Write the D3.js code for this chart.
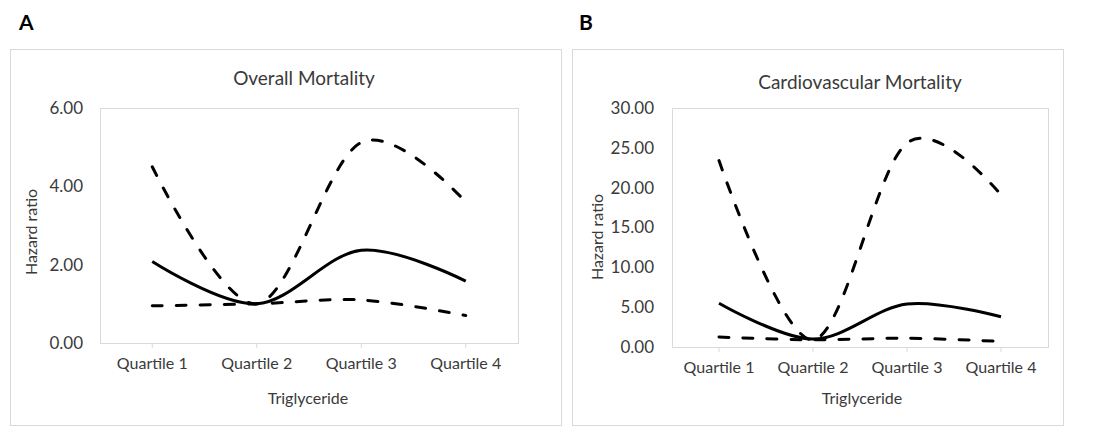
<!DOCTYPE html>
<html>
<head>
<meta charset="utf-8">
<script src="https://cdn.jsdelivr.net/npm/d3@7"></script>
<style>
  body { margin: 0; background: #fff; }
  svg text { font-family: Lato, "Open Sans", sans-serif; fill: #3a3a3a; }
</style>
</head>
<body>
<svg width="1095" height="426"></svg>
<script>
var categories = ["Quartile 1", "Quartile 2", "Quartile 3", "Quartile 4"];

// panel A - overall mortality
var overallHR    = [2.08, 1.00, 2.37, 1.58];
var overallUpper = [4.50, 1.00, 5.12, 3.60];
var overallLower = [0.95, 1.00, 1.10, 0.70];
var overallTicks = [0, 2, 4, 6];

// panel B - cardiovascular mortality
var cvHR    = [5.50, 1.00, 5.40, 3.80];
var cvUpper = [23.4, 0.90, 25.6, 19.1];
var cvLower = [1.25, 0.90, 1.10, 0.70];
var cvTicks = [0, 5, 10, 15, 20, 25, 30];

var svg = d3.select("svg");

function drawPanel(o) {
  var g = svg.append("g");

  // outer frame
  g.append("rect")
      .attr("x", o.box[0] + 0.5).attr("y", o.box[1] + 0.5)
      .attr("width", o.box[2]).attr("height", o.box[3])
      .attr("fill", "#fff").attr("stroke", "#d9d9d9");

  g.append("text")
      .attr("x", o.letterX).attr("y", 30)
      .style("font-size", "21px").style("font-weight", "bold").style("fill", "#000")
      .text(o.letter);

  var x = d3.scaleBand().domain(categories).range([o.left, o.right]);
  var y = d3.scaleLinear().domain([0, o.max]).range([o.bottom, o.top]);
  var cx = function(d, i) { return x(categories[i]) + x.bandwidth() / 2; };

  // plot area border
  g.append("rect")
      .attr("x", o.left + 0.5).attr("y", o.top + 0.5)
      .attr("width", o.right - o.left).attr("height", o.bottom - o.top)
      .attr("fill", "none").attr("stroke", "#d9d9d9");

  // y axis
  var ya = g.append("g")
      .attr("transform", "translate(" + o.left + ",0)")
      .call(d3.axisLeft(y).tickValues(o.ticks).tickSize(0).tickPadding(o.yPad).tickFormat(d3.format(".2f")));
  ya.select(".domain").remove();
  ya.selectAll("text").style("font-size", "17px");

  // x axis
  var xa = g.append("g")
      .attr("transform", "translate(0," + o.bottom + ")")
      .call(d3.axisBottom(x).tickSize(5).tickPadding(10));
  xa.select(".domain").remove();
  xa.selectAll("line").attr("stroke", "#d9d9d9");
  xa.selectAll("text").style("font-size", "16px");

  g.append("text")
      .attr("x", o.titleX).attr("y", o.titleY)
      .attr("text-anchor", "middle").style("font-size", "19px")
      .text(o.title);

  g.append("text")
      .attr("x", o.axisTitleX).attr("y", 404)
      .attr("text-anchor", "middle").style("font-size", "16px")
      .text("Triglyceride");

  g.append("text")
      .attr("transform", "translate(" + o.yLabelX + "," + o.yLabelY + ") rotate(-90)")
      .attr("text-anchor", "middle").style("font-size", "16px")
      .text("Hazard ratio");

  var line = d3.line()
      .curve(d3.curveCardinal.tension(0))
      .x(cx)
      .y(function(d) { return y(d); });

  [o.upper, o.lower].forEach(function(s) {
    g.append("path")
        .attr("d", line(s))
        .attr("fill", "none").attr("stroke", "#000")
        .attr("stroke-width", 3).attr("stroke-linecap", "round")
        .attr("stroke-dasharray", "10,14");
  });
  g.append("path")
      .attr("d", line(o.hr))
      .attr("fill", "none").attr("stroke", "#000")
      .attr("stroke-width", 3);
}

drawPanel({
  box: [10, 49, 551, 376], letter: "A", letterX: 19,
  left: 100, right: 518, top: 108, bottom: 343, max: 6, ticks: overallTicks, yPad: 17,
  title: "Overall Mortality", titleX: 304, titleY: 85, axisTitleX: 308,
  yLabelX: 37, yLabelY: 232,
  hr: overallHR, upper: overallUpper, lower: overallLower
});

drawPanel({
  box: [572, 49, 491, 376], letter: "B", letterX: 579,
  left: 672, right: 1048, top: 108, bottom: 347, max: 30, ticks: cvTicks, yPad: 18,
  title: "Cardiovascular Mortality", titleX: 860, titleY: 89, axisTitleX: 862,
  yLabelX: 603, yLabelY: 237,
  hr: cvHR, upper: cvUpper, lower: cvLower
});
</script>
</body>
</html>
